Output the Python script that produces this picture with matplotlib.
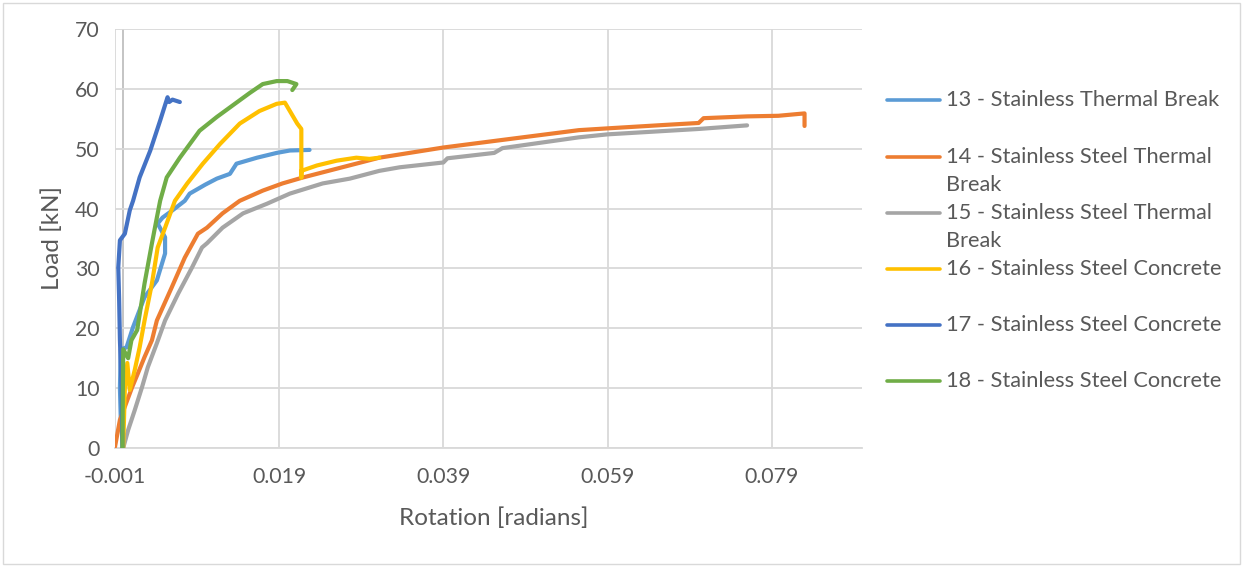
import matplotlib
matplotlib.use("Agg")
import matplotlib.pyplot as plt
from matplotlib.lines import Line2D
from matplotlib.patches import Rectangle

plt.rcParams['font.family'] = ['Lato', 'DejaVu Sans']

# Load–rotation curves for each connection specimen
rot_13 = [0.0, -0.0003, -0.0004, -0.0003, 0.0004, 0.0012, 0.0026, 0.0041, 0.0051, 0.0051,
          0.0042, 0.0048, 0.0060, 0.0075, 0.0081, 0.0100, 0.0114, 0.0130, 0.0138, 0.0163,
          0.0187, 0.0203, 0.0227]
load_13 = [0, 5, 10, 16.5, 16.8, 20.2, 25.2, 28, 32.5, 35.2,
           37.5, 38.5, 39.7, 41.3, 42.5, 44.0, 45.0, 45.8, 47.5, 48.5,
           49.3, 49.7, 49.8]

rot_14 = [-0.0010, -0.0004, 0.0005, 0.0011, 0.0018, 0.0026, 0.0035, 0.0041, 0.0059, 0.0075,
          0.0091, 0.0102, 0.0121, 0.0142, 0.0170, 0.0194, 0.0219, 0.0264, 0.0312, 0.0390,
          0.0458, 0.0555, 0.0590, 0.0663, 0.0701, 0.0707, 0.0760, 0.0798, 0.0830, 0.0830]
load_14 = [0.2, 4.7, 8.0, 10.2, 12.5, 15.2, 18.0, 21.3, 26.8, 31.8,
           35.8, 36.8, 39.2, 41.3, 43.0, 44.2, 45.2, 46.8, 48.5, 50.2,
           51.4, 53.1, 53.4, 54.0, 54.3, 55.1, 55.4, 55.5, 55.9, 53.8]

rot_15 = [0.0, 0.0006, 0.0014, 0.0023, 0.0030, 0.0041, 0.0051, 0.0067, 0.0084, 0.0096,
          0.0102, 0.0121, 0.0146, 0.0175, 0.0203, 0.0243, 0.0276, 0.0312, 0.0337, 0.0390,
          0.0395, 0.0452, 0.0462, 0.0555, 0.0590, 0.0701, 0.0760]
load_15 = [0, 3.0, 6.3, 10.2, 13.5, 17.5, 21.3, 25.8, 30.2, 33.5,
           34.2, 36.8, 39.2, 40.8, 42.5, 44.2, 45.0, 46.3, 46.9, 47.7,
           48.4, 49.3, 50.1, 51.9, 52.4, 53.3, 53.9]

rot_16 = [0.0, 0.0002, 0.0005, 0.0008, 0.0014, 0.0020, 0.0026, 0.0035, 0.0042, 0.0051,
          0.0063, 0.0078, 0.0097, 0.0118, 0.0142, 0.0166, 0.0187, 0.0197, 0.0203, 0.0212,
          0.0217, 0.0217, 0.0217, 0.0236, 0.0260, 0.0284, 0.0300, 0.0312]
load_16 = [0, 10.0, 14.2, 9.7, 13.0, 16.8, 21.3, 27.5, 33.5, 36.8,
           41.3, 44.2, 47.5, 50.8, 54.2, 56.3, 57.5, 57.7, 56.3, 54.2,
           53.3, 45.2, 46.3, 47.2, 48.0, 48.5, 48.3, 48.5]

rot_17 = [-0.0001, -0.0002, -0.0004, -0.0005, -0.0006, -0.0004, 0.0002, 0.0008, 0.0012, 0.0020,
          0.0033, 0.0045, 0.0054, 0.0056, 0.0060, 0.0069]
load_17 = [0, 10.0, 18.0, 25.0, 30.2, 34.7, 35.8, 39.7, 41.3, 45.2,
           49.7, 54.7, 58.6, 57.8, 58.2, 57.8]

rot_18 = [-0.0001, 0.0, 0.0006, 0.0010, 0.0017, 0.0026, 0.0035, 0.0041, 0.0045, 0.0053,
          0.0069, 0.0093, 0.0114, 0.0130, 0.0154, 0.0170, 0.0187, 0.0200, 0.0211, 0.0206]
load_18 = [0, 16.5, 15.0, 18.0, 19.7, 27.5, 34.2, 38.5, 41.3, 45.2,
           48.5, 53.0, 55.3, 56.9, 59.3, 60.8, 61.3, 61.3, 60.8, 59.8]

series_labels = [
    "13 - Stainless Thermal Break",
    "14 - Stainless Steel Thermal\nBreak",
    "15 - Stainless Steel Thermal\nBreak",
    "16 - Stainless Steel Concrete",
    "17 - Stainless Steel Concrete",
    "18 - Stainless Steel Concrete",
]
series_colors = ["#5B9BD5", "#ED7D31", "#A5A5A5", "#FFC000", "#4472C4", "#70AD47"]

x_ticks = [-0.001, 0.019, 0.039, 0.059, 0.079]
x_tick_labels = ["-0.001", "0.019", "0.039", "0.059", "0.079"]
y_ticks = [0, 10, 20, 30, 40, 50, 60, 70]

W, H = 1243, 567
fig = plt.figure(figsize=(W / 100, H / 100), dpi=100)
ax = fig.add_axes([115 / W, 1 - 448 / H, (862 - 115) / W, (448 - 29) / H])

text_color = "#595959"
grid_color = "#D9D9D9"

series = [(rot_13, load_13), (rot_14, load_14), (rot_15, load_15),
          (rot_16, load_16), (rot_17, load_17), (rot_18, load_18)]
for (xs, ys), color in zip(series, series_colors):
    ax.plot(xs, ys, color=color, lw=3.0, solid_joinstyle="round",
            solid_capstyle="round", zorder=3)

ax.set_xlim(-0.001, 0.090)
ax.set_ylim(0, 70)
ax.set_xticks(x_ticks)
ax.set_xticklabels(x_tick_labels)
ax.set_yticks(y_ticks)
ax.grid(True, color=grid_color, lw=1.3, zorder=0)
ax.axvline(0, color="#BFBFBF", lw=1.3, zorder=1)
for side in ("top", "right", "left"):
    ax.spines[side].set_visible(False)
ax.spines["bottom"].set_color(grid_color)
ax.spines["bottom"].set_linewidth(1.3)
ax.tick_params(length=0, labelsize=15.3, labelcolor=text_color)
ax.tick_params(axis="y", pad=11)
ax.tick_params(axis="x", pad=14)

fig.text(52 / W, 1 - 238 / H, "Load [kN]", rotation=90, ha="center", va="center",
         fontsize=17.5, color=text_color)
fig.text(494 / W, 1 - 518 / H, "Rotation [radians]", ha="center", va="center",
         fontsize=17.5, color=text_color)

# Legend entries down the right-hand side
legend_y = [100, 157, 213, 269, 325, 381]
for label, color, yc in zip(series_labels, series_colors, legend_y):
    fig.add_artist(Line2D([887 / W, 940 / W], [1 - yc / H, 1 - yc / H],
                          color=color, lw=2.6, solid_capstyle="round",
                          transform=fig.transFigure))
    for k, line in enumerate(label.split("\n")):
        fig.text(946 / W, 1 - (yc + 28 * k) / H, line, ha="left", va="center",
                 fontsize=15.7, color=text_color)

fig.add_artist(Rectangle((3 / W, 3 / H), (W - 6) / W, (H - 6) / H, fill=False,
                         edgecolor=grid_color, lw=1.0, transform=fig.transFigure))

fig.savefig("out.png", dpi=100, facecolor="white")
